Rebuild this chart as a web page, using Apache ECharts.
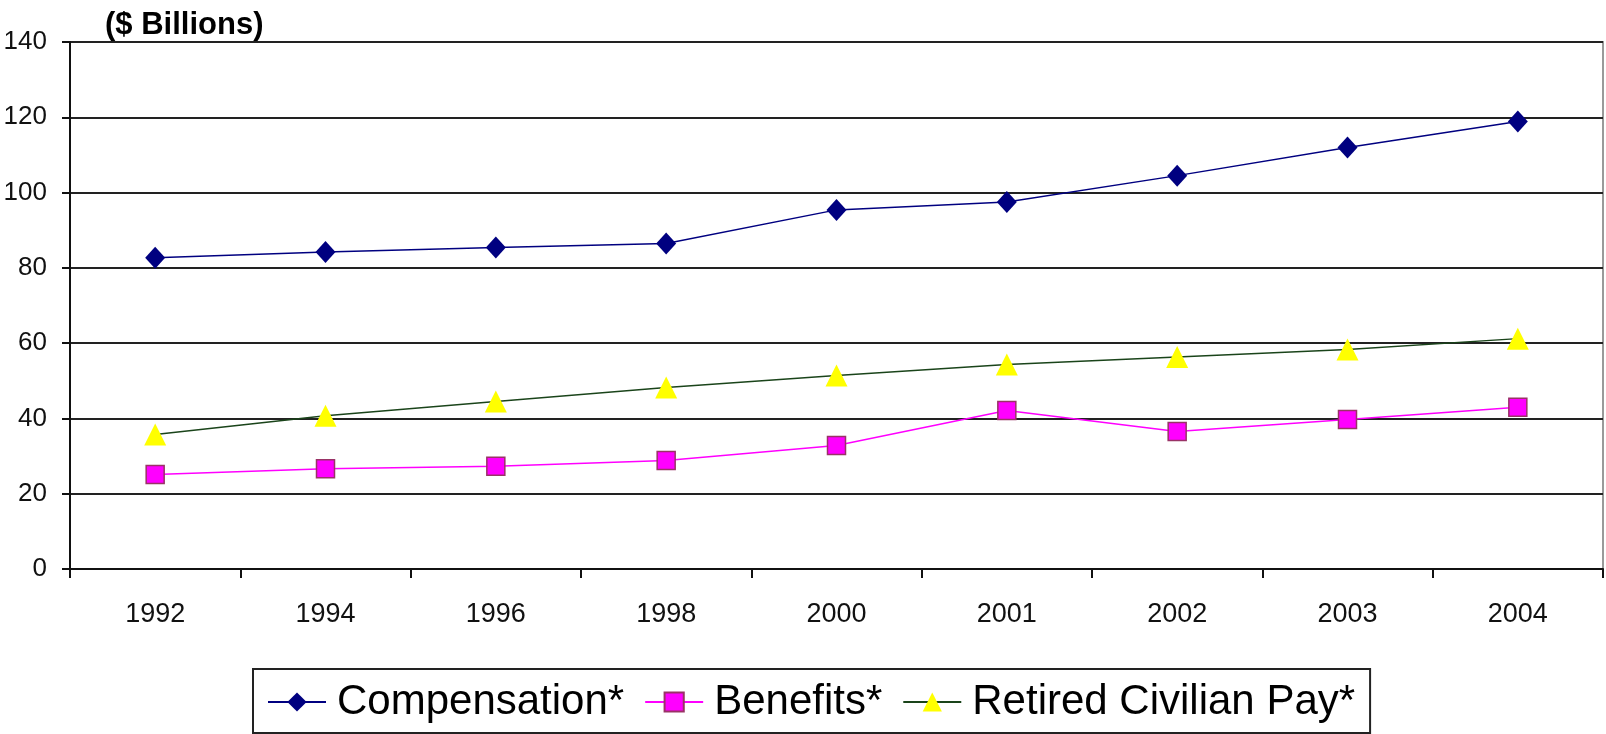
<!DOCTYPE html>
<html>
<head>
<meta charset="utf-8">
<script src="https://cdn.jsdelivr.net/npm/echarts@6/dist/echarts.min.js"></script>
<style>
  html, body { margin: 0; padding: 0; background: #fff; }
  #chart { width: 1606px; height: 734px; }
</style>
</head>
<body>
<div id="chart"></div>
<script>
const categories = ['1992', '1994', '1996', '1998', '2000', '2001', '2002', '2003', '2004'];
const compensation = [82.7, 84.2, 85.4, 86.5, 95.4, 97.5, 104.5, 112.0, 118.9];
const benefits = [25.1, 26.6, 27.3, 28.8, 32.8, 42.1, 36.5, 39.7, 43.0];
const retired = [35.7, 40.7, 44.5, 48.2, 51.4, 54.3, 56.3, 58.3, 61.2];
const yTicks = { min: 0, max: 140, interval: 20 };

const FONT = 'Liberation Sans, Arial, sans-serif';
const chart = echarts.init(document.getElementById('chart'), null, { renderer: 'canvas' });

chart.setOption({
  backgroundColor: '#ffffff',
  animation: false,
  title: {
    text: '($ Billions)',
    left: 100,
    top: 5,
    textStyle: { fontFamily: FONT, fontSize: 31, fontWeight: 'bold', color: '#000' }
  },
  grid: {
    left: 70, right: 3, top: 42, bottom: 165,
    show: true, borderColor: '#9a9a9a', borderWidth: 2, backgroundColor: 'transparent'
  },
  legend: {
    left: 253,
    bottom: 1,
    orient: 'horizontal',
    itemWidth: 58,
    itemHeight: 24,
    itemGap: 20,
    padding: [12, 15, 10, 14],
    borderColor: '#222',
    borderWidth: 2,
    textStyle: { fontFamily: FONT, fontSize: 42, color: '#000', padding: [0, 0, 0, 6] },
    data: ['Compensation*', 'Benefits*', 'Retired Civilian Pay*']
  },
  xAxis: {
    type: 'category',
    data: categories,
    boundaryGap: true,
    axisLine: { lineStyle: { color: '#111', width: 2 } },
    axisTick: { show: true, alignWithLabel: false, length: 9, lineStyle: { color: '#111', width: 2 } },
    axisLabel: { fontFamily: FONT, fontSize: 27, color: '#111', margin: 32 },
    splitLine: { show: false }
  },
  yAxis: {
    type: 'value',
    min: yTicks.min, max: yTicks.max, interval: yTicks.interval,
    axisLine: { show: true, lineStyle: { color: '#111', width: 2 } },
    axisTick: { show: true, length: 8, lineStyle: { color: '#111', width: 2 } },
    axisLabel: { fontFamily: FONT, fontSize: 26, color: '#111', margin: 23 },
    splitLine: { show: true, lineStyle: { color: '#222', width: 2 } }
  },
  series: [
    {
      name: 'Compensation*',
      type: 'line',
      data: compensation,
      symbol: 'diamond',
      symbolSize: [20, 22],
      lineStyle: { color: '#000080', width: 1.5 },
      itemStyle: { color: '#000080', borderWidth: 0 },
      z: 5
    },
    {
      name: 'Benefits*',
      type: 'line',
      data: benefits,
      symbol: 'rect',
      symbolSize: 18,
      lineStyle: { color: '#ff00ff', width: 1.5 },
      itemStyle: { color: '#ff00ff', borderColor: '#993366', borderWidth: 1.5 },
      z: 4
    },
    {
      name: 'Retired Civilian Pay*',
      type: 'line',
      data: retired,
      symbol: 'triangle',
      symbolSize: [22, 22],
      lineStyle: { color: '#1a441a', width: 1.5 },
      itemStyle: { color: '#ffff00', borderWidth: 0 },
      z: 3
    }
  ]
});
</script>
</body>
</html>
